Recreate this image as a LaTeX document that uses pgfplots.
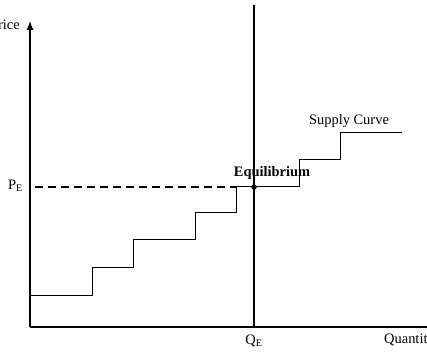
\documentclass[border=0pt]{standalone}
\usepackage{fontspec}
\setmainfont{Liberation Serif}
\usepackage{pgfplots}
\pgfplotsset{compat=1.18}
\usetikzlibrary{arrows.meta}
\tikzset{lbl/.style={font=\fontsize{14.5}{17}\selectfont, inner sep=0pt}}
\begin{document}
\begin{tikzpicture}
\begin{axis}[
  scale only axis, width=427bp, height=352bp,
  xmin=0, xmax=427, ymin=0, ymax=352,
  hide axis, clip=false,
]
% axes
\draw[line width=1.2bp, -{Latex[length=9bp,width=7bp]}] (axis cs:30,25) -- (axis cs:30,331);
\draw[line width=1.2bp, -{Latex[length=9bp,width=7bp]}] (axis cs:30,25) -- (axis cs:445,25);
% equilibrium quantity line
\draw[line width=1.7bp] (axis cs:254,25) -- (axis cs:254,347);
% dashed price line
\draw[line width=1.3bp, dash pattern=on 8bp off 5bp] (axis cs:35,165) -- (axis cs:236,165);
% supply curve
\addplot[const plot, black, line width=1bp, mark=none] coordinates {
  (30,56) (92,84) (133,112) (195,139) (236,165) (299,192) (340,219) (402,219)
};
% equilibrium point
\addplot[only marks, mark=*, mark size=2.5bp, black] coordinates {(254,165)};
% labels
\node[lbl, anchor=east] at (axis cs:20,327) {Price};
\node[lbl, anchor=west] at (axis cs:384,12) {Quantity};
\node[lbl] at (axis cs:254,11) {Q\textsubscript{E}};
\node[lbl, anchor=east] at (axis cs:23,166) {P\textsubscript{E}};
\node[lbl] at (axis cs:272,179) {\textbf{Equilibrium}};
\node[lbl] at (axis cs:349,231) {Supply Curve};
\end{axis}
\pgfresetboundingbox
\useasboundingbox (0,0) rectangle (427bp,352bp);
\end{tikzpicture}
\end{document}
